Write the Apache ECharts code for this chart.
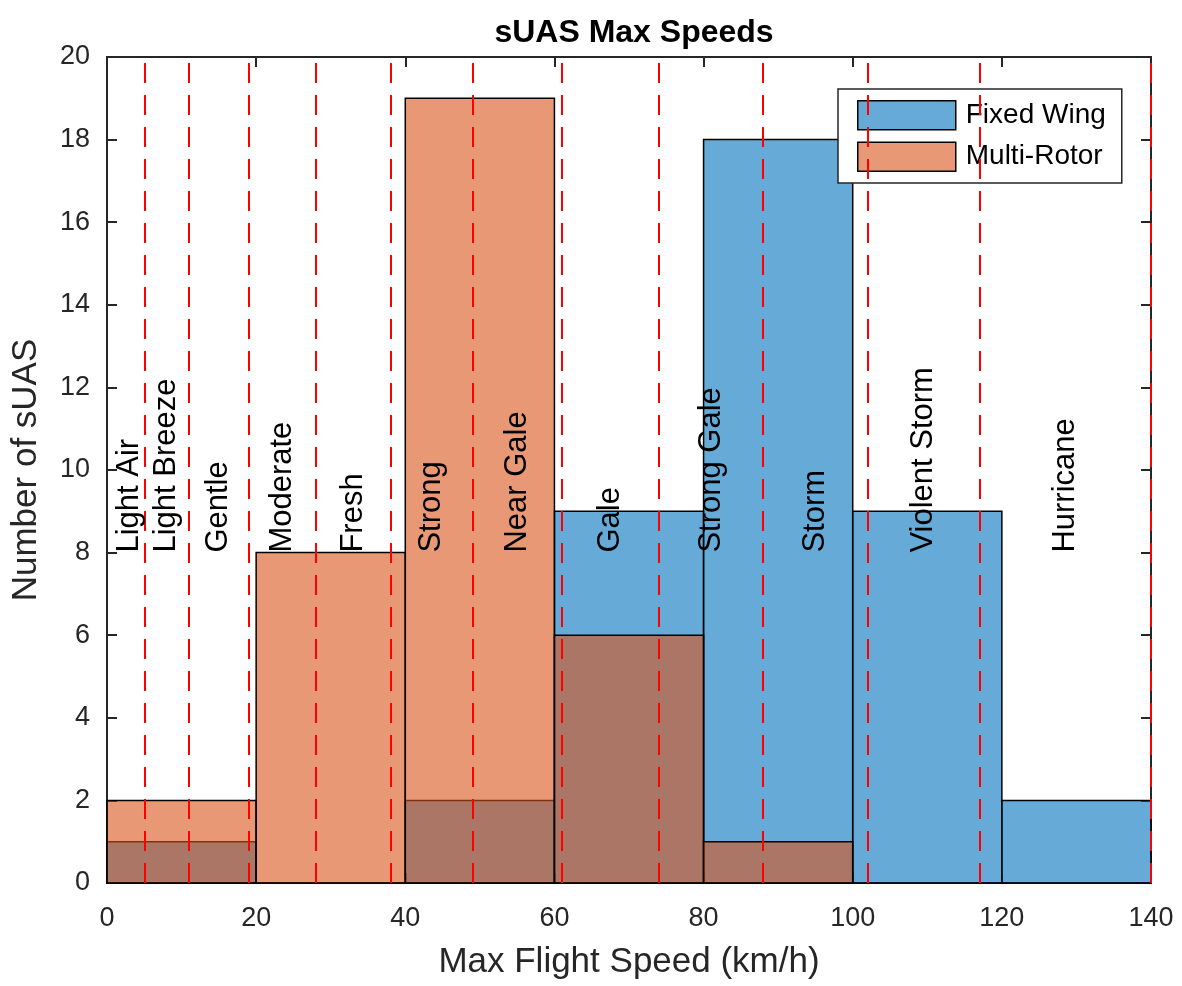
<!DOCTYPE html>
<html>
<head>
<meta charset="utf-8">
<title>sUAS Max Speeds</title>
<script src="https://cdn.jsdelivr.net/npm/echarts@6/dist/echarts.min.js"></script>
<style>
  html, body { margin: 0; padding: 0; background: #fff; }
  #chart { width: 1182px; height: 986px; }
</style>
</head>
<body>
<div id="chart"></div>
<script>
// histogram bins (km/h) and counts per bin
var binEdges = [0, 20, 40, 60, 80, 100, 120, 140];
var fixedWing = [1, 0, 2, 9, 18, 9, 2];
var multiRotor = [2, 8, 19, 6, 1, 0, 0];

// Beaufort scale boundaries (km/h) -> red dashed lines
var beaufort = [5, 11, 19, 28, 38, 49, 61, 74, 88, 102, 117, 140];
var windNames = ['Light Air', 'Light Breeze', 'Gentle', 'Moderate', 'Fresh', 'Strong',
  'Near Gale', 'Gale', 'Strong Gale', 'Storm', 'Violent Storm', 'Hurricane'];
var windCenters = [3, 8, 15, 23.5, 33, 43.5, 55, 67.5, 81, 95, 109.5, 128.5];
var labelY = 8;

var FONT = '"Liberation Sans", Arial, Helvetica, sans-serif';
var blue = 'rgba(0,114,189,0.6)';
var orange = 'rgba(217,83,25,0.6)';

function histData(counts) {
    var out = [];
    for (var i = 0; i < counts.length; i++) {
        out.push([binEdges[i], binEdges[i + 1], counts[i]]);
    }
    return out;
}

// one rect per bin, drawn through the axis scales
function renderBar(color) {
    return function (params, api) {
        var x0 = api.value(0), x1 = api.value(1), c = api.value(2);
        if (c <= 0) return null;
        var p0 = api.coord([x0, c]);
        var p1 = api.coord([x1, 0]);
        return {
            type: 'rect',
            shape: { x: p0[0], y: p0[1], width: p1[0] - p0[0], height: p1[1] - p0[1] },
            style: { fill: color, stroke: '#000', lineWidth: 1.5 }
        };
    };
}

var textData = [];
for (var i = 0; i < windNames.length; i++) {
    textData.push([windCenters[i], labelY, windNames[i]]);
}

function axis(extra) {
    var base = {
        type: 'value',
        axisLine: { show: true, onZero: false, lineStyle: { color: '#262626', width: 2 } },
        axisTick: { show: true, inside: true, length: 10, lineStyle: { color: '#262626', width: 2 } },
        splitLine: { show: false }
    };
    return echarts.util.merge(base, extra, true);
}

var myChart = echarts.init(document.getElementById('chart'));
var option = {
    backgroundColor: '#fff',
    animation: false,
    title: {
        text: 'sUAS Max Speeds',
        left: 629, textAlign: 'center', top: 12,
        textStyle: { fontFamily: FONT, fontSize: 32, fontWeight: 'bold', color: '#000' }
    },
    grid: { left: 107, right: 31, top: 57, bottom: 103 },
    legend: {
        left: 838, top: 89,
        orient: 'vertical',
        itemWidth: 98, itemHeight: 29, itemGap: 11,
        padding: [11, 16, 11, 19],
        borderColor: '#262626', borderWidth: 1.5,
        backgroundColor: '#fff',
        textStyle: { fontFamily: FONT, fontSize: 28, color: '#000', padding: [0, 0, 0, 5] },
        data: [
            { name: 'Fixed Wing', icon: 'rect', itemStyle: { color: '#66AAD7', borderColor: '#000', borderWidth: 1.5 } },
            { name: 'Multi-Rotor', icon: 'rect', itemStyle: { color: '#E89875', borderColor: '#000', borderWidth: 1.5 } }
        ]
    },
    xAxis: [
        axis({
            position: 'bottom', min: 0, max: 140, interval: 20,
            name: 'Max Flight Speed (km/h)', nameLocation: 'middle', nameGap: 62,
            nameTextStyle: { fontFamily: FONT, fontSize: 35, color: '#262626' },
            axisLabel: { fontFamily: FONT, fontSize: 27, color: '#262626', margin: 22 }
        }),
        axis({
            position: 'top', min: 0, max: 140, interval: 20,
            axisLabel: { show: false }
        })
    ],
    yAxis: [
        axis({
            position: 'left', min: 0, max: 20, interval: 2,
            name: 'Number of sUAS', nameLocation: 'middle', nameGap: 63,
            nameTextStyle: { fontFamily: FONT, fontSize: 35, color: '#262626' },
            axisLabel: { fontFamily: FONT, fontSize: 27, color: '#262626', margin: 17 }
        }),
        axis({
            position: 'right', min: 0, max: 20, interval: 2,
            axisLabel: { show: false }
        })
    ],
    series: [
        {
            name: 'Fixed Wing', type: 'custom',
            renderItem: renderBar(blue),
            itemStyle: { color: '#66AAD7' },
            encode: { x: [0, 1], y: 2 },
            data: histData(fixedWing),
            z: 2
        },
        {
            name: 'Multi-Rotor', type: 'custom',
            renderItem: renderBar(orange),
            itemStyle: { color: '#E89875' },
            encode: { x: [0, 1], y: 2 },
            data: histData(multiRotor),
            z: 3
        },
        {
            name: 'wind', type: 'custom',
            renderItem: function (params, api) {
                var p = api.coord([api.value(0), api.value(1)]);
                return {
                    type: 'text',
                    x: p[0], y: p[1], rotation: Math.PI / 2,
                    style: {
                        text: textData[params.dataIndex][2],
                        fontFamily: FONT, fontSize: 31, fill: '#000',
                        align: 'left', verticalAlign: 'middle'
                    }
                };
            },
            data: textData.map(function (d) { return [d[0], d[1]]; }),
            z: 5,
            silent: true,
            markLine: {
                silent: true, symbol: 'none', animation: false,
                label: { show: false },
                lineStyle: { color: '#FF0000', width: 2, type: [20, 12] },
                data: beaufort.map(function (v) { return { xAxis: v }; })
            }
        }
    ]
};
myChart.setOption(option);
</script>
</body>
</html>
